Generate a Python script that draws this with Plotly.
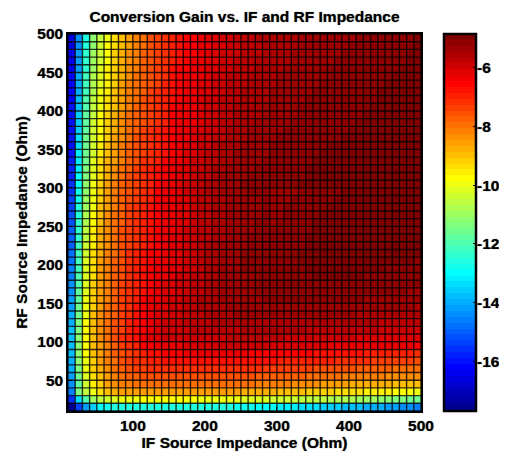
import plotly.graph_objects as go

if_edges_ohm = list(range(10, 510, 10))
rf_edges_ohm = list(range(10, 510, 10))
x_tick_values = [100, 200, 300, 400, 500]
y_tick_values = [50, 100, 150, 200, 250, 300, 350, 400, 450, 500]
bar_tick_values = [-16, -14, -12, -10, -8, -6]
z_low = -17.7
z_high = -4.85

# Conversion loss in tenths of a dB, bottom row first
loss_tenths_db = [
[176,154,142,135,130,128,126, 125,125,125,125,125,125,125, 125,125,125,125,125,125,126, 126,126,127,128,128,129,130, 130,131,132,132,133,134,134, 135,135,136,137,137,138,139, 140,140,141,142,143,144,145],
[155,134,119,110,106,103,101, 100,99,99,98,98,98,98, 98,98,98,98,99,99,99, 100,100,100,101,102,102,102, 103,103,104,104,105,105,105, 106,107,107,108,108,109,110, 110,111,112,113,114,115,116],
[145,114,105,99,93,90,88, 86,85,85,85,85,85,85, 85,85,85,85,85,85,85, 85,86,86,87,87,87,88, 88,89,89,90,90,91,91, 92,92,93,93,94,94,95, 95,96,96,97,97,98,99],
[144,117,104,96,91,86,84, 82,81,80,79,79,79,79, 79,79,79,79,79,79,79, 79,80,80,80,80,81,81, 82,82,82,83,83,84,84, 85,85,86,86,87,87,87, 88,88,88,89,89,90,90],
[142,115,102,94,89,85,82, 80,78,77,76,76,75,75, 75,75,75,75,75,75,75, 75,76,76,76,76,77,77, 77,77,78,78,78,79,79, 79,80,80,81,81,81,82, 82,82,83,83,83,84,84],
[140,113,100,92,87,83,80, 78,76,74,73,72,71,71, 71,71,71,71,71,71,71, 71,72,72,72,72,72,73, 73,73,74,74,74,74,75, 75,75,76,76,76,77,77, 78,78,78,79,79,80,80],
[139,112,99,91,86,82,79, 76,74,72,71,70,69,68, 68,67,67,67,67,67,67, 67,67,67,67,68,68,68, 68,69,69,69,69,69,70, 70,70,71,71,71,72,72, 73,73,73,74,74,74,75],
[138,112,98,90,85,81,78, 75,73,71,69,68,67,66, 65,65,64,64,64,64,64, 64,64,64,64,65,65,65, 65,65,66,66,66,66,67, 67,67,67,68,68,68,69, 69,69,69,70,70,70,71],
[137,112,98,90,85,81,77, 74,71,69,66,65,64,63, 63,63,62,62,61,61,61, 60,60,60,60,60,60,60, 61,61,61,61,61,62,62, 62,63,63,63,63,64,64, 64,64,64,64,64,64,65],
[137,112,97,89,84,80,76, 72,70,67,64,62,61,60, 60,60,60,59,59,59,59, 59,58,58,58,58,58,58, 58,58,59,59,59,59,59, 60,60,60,60,60,61,61, 61,61,61,62,62,62,62],
[138,113,98,89,84,80,76, 73,70,67,65,63,61,60, 60,59,59,58,58,58,57, 57,57,57,56,56,56,56, 56,56,56,56,56,57,57, 57,57,57,58,58,58,58, 58,59,59,59,59,60,60],
[139,114,98,90,84,80,76, 73,70,68,65,63,62,60, 60,59,58,58,57,57,56, 56,55,55,55,55,55,55, 55,55,55,55,55,55,55, 55,55,56,56,56,56,56, 56,57,57,57,57,57,58],
[140,115,99,90,84,80,77, 73,71,68,66,64,62,61, 60,59,58,57,57,56,56, 55,55,54,54,54,54,54, 54,54,54,54,54,54,54, 54,54,54,54,54,55,55, 55,55,55,55,55,56,56],
[141,116,100,91,85,80,77, 74,71,68,66,64,62,61, 60,59,58,57,56,56,55, 55,54,54,54,53,53,53, 53,53,53,53,53,53,53, 53,53,53,53,53,53,53, 54,54,54,54,54,54,55],
[142,117,100,91,85,81,77, 74,71,69,66,64,63,61, 60,59,58,57,56,56,55, 54,54,54,53,53,53,52, 52,52,52,52,52,52,52, 52,52,52,52,52,52,53, 53,53,53,53,53,53,54],
[143,118,101,92,85,81,77, 74,71,69,67,65,63,62, 61,60,59,58,57,56,55, 54,54,53,53,53,52,52, 52,52,52,52,51,51,51, 51,51,51,51,52,52,52, 52,52,52,52,52,53,53],
[144,119,101,92,85,81,78, 74,72,69,67,65,63,62, 61,60,59,58,57,56,55, 54,54,53,53,53,52,52, 52,51,51,51,51,51,51, 51,51,51,51,51,51,51, 51,51,51,52,52,52,52],
[145,120,102,93,86,82,78, 75,72,69,67,65,64,63, 61,60,59,58,57,56,55, 54,54,53,53,53,52,52, 52,51,51,51,51,51,50, 50,50,50,50,50,50,51, 51,51,51,51,51,51,51],
[146,121,102,93,86,82,78, 75,72,70,68,66,64,63, 62,61,60,59,58,56,55, 54,53,53,52,52,52,52, 52,51,51,51,51,50,50, 50,50,50,50,50,50,50, 50,50,51,51,51,51,51],
[147,122,102,93,86,82,78, 75,72,70,68,66,64,63, 62,61,60,59,58,56,55, 54,53,53,52,52,52,52, 52,51,51,51,50,50,50, 50,50,50,50,50,50,50, 50,50,50,50,50,50,51],
[148,122,103,94,87,82,79, 75,72,70,68,66,65,63, 62,61,60,59,58,56,55, 54,53,53,52,52,52,52, 52,51,51,51,50,50,50, 50,50,50,50,50,50,50, 50,50,50,50,50,50,50],
[149,122,104,95,87,83,79, 76,73,71,69,67,65,64, 62,61,60,59,58,56,55, 54,54,53,53,52,52,52, 52,52,51,51,51,50,50, 50,50,50,50,50,50,49, 49,49,49,50,50,50,50],
[150,123,105,95,88,83,79, 76,73,71,69,67,65,64, 62,61,60,59,58,57,56, 55,54,53,53,52,52,52, 52,52,51,51,51,50,50, 50,50,50,49,49,49,49, 49,49,49,49,50,50,50],
[150,123,106,96,88,83,80, 76,74,71,69,67,65,64, 63,62,60,59,58,57,56, 55,54,53,53,53,52,52, 52,52,52,51,51,51,50, 50,50,50,49,49,49,49, 49,49,49,49,49,49,50],
[151,124,107,97,89,84,80, 77,74,72,70,68,66,64, 63,62,61,59,58,57,56, 55,54,54,53,53,52,52, 53,52,52,51,51,51,50, 50,50,50,50,49,49,49, 49,49,49,49,49,49,49],
[152,125,108,98,90,84,80, 77,74,72,70,68,66,64, 63,62,61,59,58,57,56, 55,54,54,53,53,53,52, 53,53,52,52,51,51,51, 50,50,50,50,50,49,49, 49,49,49,49,49,49,49],
[153,126,109,99,90,85,81, 77,74,72,70,68,66,64, 63,62,61,59,58,57,56, 55,54,54,53,53,53,52, 53,53,52,52,52,51,51, 51,50,50,50,50,50,49, 49,49,49,49,49,49,49],
[154,127,110,99,91,85,81, 78,75,73,71,69,66,64, 63,62,61,59,58,57,56, 55,54,54,53,53,53,52, 54,53,53,52,52,52,51, 51,51,50,50,50,50,49, 49,49,49,49,49,49,49],
[155,128,111,100,91,86,82, 78,75,73,71,69,66,64, 63,62,60,59,58,56,55, 54,53,53,53,52,52,52, 54,53,53,53,52,52,52, 51,51,51,50,50,50,50, 49,49,49,49,49,49,49],
[156,129,112,100,92,86,82, 78,75,73,71,69,66,64, 63,62,60,59,58,56,55, 54,53,53,52,52,52,51, 51,51,51,51,50,50,50, 50,50,50,50,50,49,49, 49,49,49,49,49,49,49],
[157,130,113,101,93,87,83, 79,76,74,72,70,67,65, 63,62,61,60,58,57,56, 54,54,53,53,52,52,52, 51,51,51,51,51,50,50, 50,50,50,50,50,50,49, 49,49,49,49,49,49,49],
[158,131,114,101,94,88,84, 80,77,74,72,70,68,66, 64,62,61,60,59,57,56, 55,54,53,53,53,52,52, 52,51,51,51,51,50,50, 50,50,50,50,50,50,49, 49,49,49,49,49,49,49],
[158,132,115,102,94,88,85, 81,77,75,72,71,69,66, 64,63,62,60,59,58,57, 55,55,54,53,53,53,52, 52,52,51,51,51,51,50, 50,50,50,50,50,50,50, 50,49,49,49,49,49,49],
[159,132,115,103,95,89,85, 81,78,75,73,71,69,67, 65,63,62,61,60,58,57, 56,55,54,54,53,53,53, 52,52,52,51,51,51,51, 50,50,50,50,50,50,50, 50,49,49,49,49,49,49],
[159,133,116,103,96,90,86, 82,78,76,73,71,69,67, 65,64,62,61,60,59,58, 56,55,55,54,54,53,53, 52,52,52,52,51,51,51, 51,50,50,50,50,50,50, 50,50,49,49,49,49,49],
[160,134,116,104,97,91,86, 83,79,76,74,72,70,68, 65,64,63,62,60,59,58, 57,56,55,55,54,54,53, 53,52,52,52,52,51,51, 51,51,51,50,50,50,50, 50,50,50,49,49,49,49],
[160,135,117,104,97,91,87, 83,79,77,74,72,70,68, 66,64,63,62,61,60,59, 57,56,56,55,54,54,54, 53,53,52,52,52,52,51, 51,51,51,51,50,50,50, 50,50,50,49,49,49,49],
[160,136,118,104,98,92,88, 84,80,77,75,73,71,69, 66,64,63,63,61,60,59, 58,57,56,55,55,54,54, 53,53,53,52,52,52,52, 51,51,51,51,51,50,50, 50,50,50,50,49,49,49],
[160,136,118,105,98,92,88, 84,80,78,75,73,71,69, 66,64,63,63,61,60,59, 58,57,56,56,55,55,54, 54,53,53,53,52,52,52, 52,51,51,51,51,51,50, 50,50,50,50,50,49,49],
[160,137,119,105,99,93,89, 85,81,78,76,73,71,69, 66,64,63,63,61,60,59, 58,57,56,56,55,55,54, 54,53,53,53,52,52,52, 52,51,51,51,51,51,51, 50,50,50,50,50,50,49],
[161,138,120,106,100,94,90, 85,81,79,76,74,72,70, 67,65,64,63,62,60,59, 58,57,57,56,55,55,55, 54,54,53,53,53,52,52, 52,52,51,51,51,51,51, 51,50,50,50,50,50,50],
[161,139,121,107,100,95,90, 86,82,79,77,74,72,70, 67,65,64,63,62,61,60, 59,58,57,56,56,55,55, 54,54,54,53,53,53,52, 52,52,52,51,51,51,51, 51,50,50,50,50,50,50],
[162,139,121,108,101,95,91, 86,82,80,77,75,73,70, 67,65,64,64,62,61,60, 59,58,57,57,56,55,55, 55,54,54,54,53,53,53, 52,52,52,52,51,51,51, 51,51,50,50,50,50,50],
[162,140,122,108,102,96,91, 87,83,80,77,75,73,71, 68,66,64,64,63,62,60, 59,58,58,57,56,56,55, 55,54,54,54,53,53,53, 53,52,52,52,52,51,51, 51,51,51,50,50,50,50],
[163,141,123,109,102,96,92, 87,83,81,78,75,73,71, 68,66,65,64,63,62,61, 60,59,58,57,57,56,56, 55,55,54,54,54,53,53, 53,52,52,52,52,52,51, 51,51,51,51,50,50,50],
[163,141,123,110,103,97,92, 88,84,81,78,76,74,71, 69,67,65,64,63,62,61, 60,59,58,58,57,56,56, 55,55,55,54,54,54,53, 53,53,52,52,52,52,52, 51,51,51,51,51,50,50],
[164,142,124,110,103,98,92, 88,84,81,78,76,74,71, 69,67,66,65,64,62,61, 60,59,59,58,57,57,56, 56,55,55,54,54,54,53, 53,53,53,52,52,52,52, 52,51,51,51,51,50,50],
[165,143,125,111,104,98,93, 89,85,82,79,76,74,71, 70,68,66,65,64,63,62, 61,60,59,58,58,57,56, 56,55,55,55,54,54,54, 53,53,53,53,52,52,52, 52,51,51,51,51,51,50],
[165,143,126,112,105,99,93, 89,85,82,79,76,74,71, 70,68,66,65,63,62,61, 60,59,58,58,57,56,56, 56,55,55,55,54,54,54, 53,53,53,53,53,52,52, 52,51,51,51,51,51,50],
]

gain_db = [[-v / 10 for v in row] for row in loss_tenths_db]


def jet_levels(count=64):
    stops = []
    for i in range(count):
        x = (i + 1) / count
        parts = [
            min(4 * x - 1.5, -4 * x + 4.5),
            min(4 * x - 0.5, -4 * x + 3.5),
            min(4 * x + 0.5, -4 * x + 2.5),
        ]
        r, g, b = [round(255 * max(0, min(1, p))) for p in parts]
        color = f"rgb({r},{g},{b})"
        stops.append([i / count, color])
        stops.append([(i + 1) / count, color])
    return stops


FONT = "Liberation Sans, Arial, sans-serif"
SHADOW = "0 0 1px rgba(0,0,0,0.7)"
tick_font = dict(family=FONT, size=15.5, color="black", weight="bold", shadow=SHADOW)
title_font = dict(family=FONT, size=15.5, color="black", weight="bold", shadow=SHADOW)

# The page puts an 8 px margin round the figure; the figure's right side is
# allowed to run past the window so that the colour bar labels have room
PAGE_MARGIN = 8
FIG_W = 507
FIG_H = 453 - PAGE_MARGIN
LEFT = 68 - PAGE_MARGIN
TOP = 34 - PAGE_MARGIN
PLOT_W = 353
RIGHT = FIG_W - LEFT - PLOT_W
bar_left = (444 - 68) / PLOT_W
bar_label_left = (476 - 68) / PLOT_W

fig = go.Figure(
    go.Heatmap(
        x=if_edges_ohm,
        y=rf_edges_ohm,
        z=gain_db,
        zmin=z_low,
        zmax=z_high,
        colorscale=jet_levels(),
        colorbar=dict(
            x=bar_left,
            xanchor="left",
            xpad=0,
            ypad=0,
            y=0,
            yanchor="bottom",
            len=1,
            lenmode="fraction",
            thickness=32,
            thicknessmode="pixels",
            outlinecolor="black",
            outlinewidth=2.5,
            tickvals=bar_tick_values,
            showticklabels=False,
            ticks="inside",
            ticklen=4,
            tickwidth=1,
            tickcolor="black",
        ),
    )
)

# Cell borders: half-transparent black lines along the same edges as the cells
grid_x = []
grid_y = []
for e in if_edges_ohm:
    grid_x += [e, e, None]
    grid_y += [10, 500, None]
for e in rf_edges_ohm:
    grid_x += [10, 500, None]
    grid_y += [e, e, None]
fig.add_trace(
    go.Scatter(
        x=grid_x,
        y=grid_y,
        mode="lines",
        line=dict(color="rgba(0,0,0,0.8)", width=1.4),
        hoverinfo="skip",
        showlegend=False,
    )
)

# Left-edge ticks and the labels of the colour bar
for v in bar_tick_values:
    pos = (v - z_low) / (z_high - z_low)
    fig.add_shape(
        type="line",
        xref="paper",
        yref="paper",
        x0=bar_left,
        x1=bar_left + 4 / PLOT_W,
        y0=pos,
        y1=pos,
        line=dict(color="black", width=1),
    )
    fig.add_annotation(
        text=str(v),
        xref="paper",
        yref="paper",
        x=bar_label_left,
        y=pos,
        xanchor="left",
        yanchor="middle",
        showarrow=False,
        borderpad=0,
        font=tick_font,
    )


def axis(title, ticks, standoff):
    return dict(
        range=[10, 500],
        title=dict(text=title, font=title_font, standoff=standoff),
        tickvals=ticks,
        ticktext=[str(v) for v in ticks],
        ticks="inside",
        ticklen=4,
        tickwidth=1,
        tickcolor="black",
        tickfont=tick_font,
        showline=True,
        linecolor="black",
        linewidth=1.5,
        mirror=True,
        showgrid=False,
        zeroline=False,
    )


fig.update_layout(
    width=FIG_W,
    height=FIG_H,
    margin=dict(l=LEFT, r=RIGHT, t=TOP, b=42, autoexpand=False),
    paper_bgcolor="white",
    plot_bgcolor="white",
    title=dict(
        text="Conversion Gain vs. IF and RF Impedance",
        font=title_font,
        x=(LEFT + PLOT_W / 2) / FIG_W,
        xanchor="center",
        y=1 - (17 - PAGE_MARGIN) / FIG_H,
        yanchor="middle",
    ),
    xaxis=axis("IF Source Impedance (Ohm)", x_tick_values, 2),
    yaxis=axis("RF Source Impedance (Ohm)", y_tick_values, 6),
)

fig.write_html("out.html")
